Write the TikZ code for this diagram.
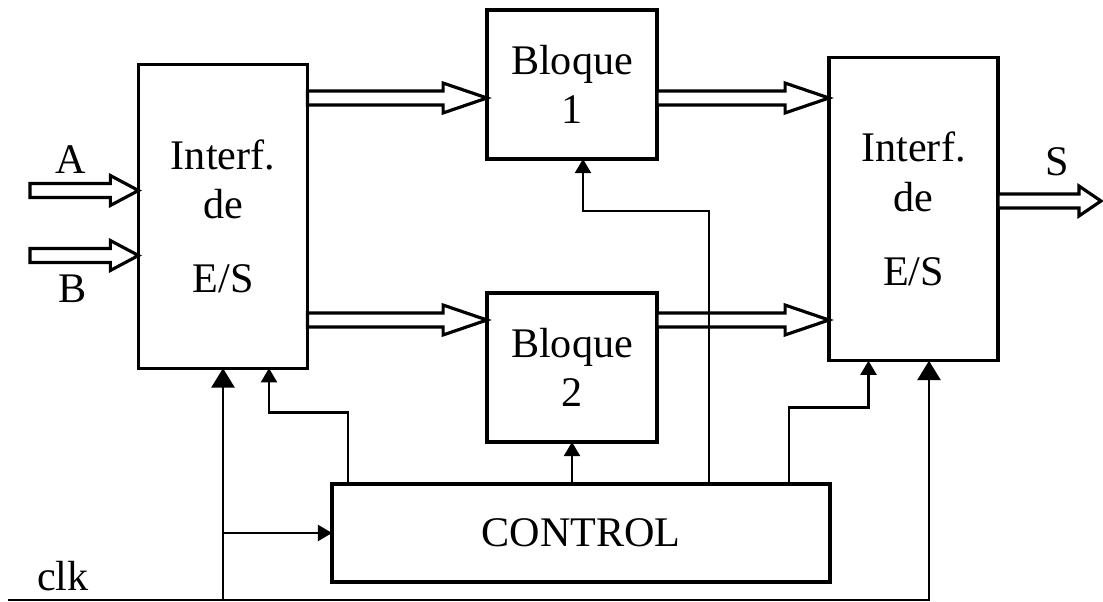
\documentclass[tikz,border=0pt]{standalone}
\usepackage{fontspec}
\setmainfont{Liberation Serif}
\usetikzlibrary{arrows.meta,calc}

% wide hollow bus arrow: [head length]{from}{to}, runs along the y of "from"
\newcommand\bus[3][25pt]{%
  \draw[bus] let \p1=(#2), \p2=(#3) in
    (\x1,\y1+4pt) -- (\x2-#1,\y1+4pt) -- (\x2-#1,\y1+8.5pt) -- (\x2,\y1)
    -- (\x2-#1,\y1-8.5pt) -- (\x2-#1,\y1-4pt) -- (\x1,\y1-4pt) -- cycle;}

\begin{document}
\begin{tikzpicture}[x=0.02cm,y=-0.02cm]
  \tikzstyle{every node}=[font=\fontsize{24}{28}\selectfont]
  \tikzstyle{blk}=[draw,line width=1.9pt,align=center,inner sep=0pt,outer sep=0pt]
  \tikzstyle{iface}=[blk,minimum width=3.38cm,minimum height=6.07cm]
  \tikzstyle{bloque}=[blk,minimum width=3.4cm,minimum height=2.98cm]
  \tikzstyle{bus}=[line width=1.8pt,fill=white,line join=miter]
  \tikzstyle{ctl}=[line width=1.5pt,-{Triangle[length=8pt,width=9pt]}]
  \tikzstyle{clkw}=[line width=1.6pt,-{Triangle[length=11pt,width=13pt]}]
  \useasboundingbox (0,0) rectangle (1103,602);

  % blocks
  \node[iface] (io1) at (223,216.5) {Interf.\\de\\[0.5cm]E/S};
  \node[bloque] (b1) at (572,84.5) {Bloque\\1};
  \node[bloque] (b2) at (572,367.5) {Bloque\\2};
  \node[iface] (io2) at (913.5,209) {Interf.\\de\\[0.5cm]E/S};
  \node[blk,minimum width=9.96cm,minimum height=1.96cm] (ctrl) at (581,533) {CONTROL};

  % buses
  \coordinate (inA) at (30,190.5);
  \coordinate (inB) at (30,255.5);
  \coordinate (rowa) at (0,98);
  \coordinate (rowb) at (0,320);
  \coordinate (rowS) at (0,201);
  \coordinate (outS) at (1101,201);
  \bus[16pt]{inA}{io1.west}
  \bus[16pt]{inB}{io1.west}
  \bus{io1.east |- rowa}{b1.west}
  \bus{io1.east |- rowb}{b2.west}
  \bus{b1.east |- rowa}{io2.west}
  \bus{b2.east |- rowb}{io2.west}
  \bus[12.5pt]{io2.east |- rowS}{outS}

  \node[anchor=base] (labA) at (71,173) {A};
  \node[anchor=base] (labB) at (73,302) {B};
  \node[anchor=base] (labS) at (1057,175) {S};
  \node[anchor=base] (labclk) at (63,590) {clk};

  % clock and control lines
  \coordinate (clkin) at (8,600);
  \draw[clkw] (clkin) -| ([shift={(15.5,0)}]io2.south);
  \draw[clkw] (io1.south |- clkin) -- (io1.south);
  \draw[ctl] (io1.south |- ctrl.west) -- (ctrl.west);
  \draw[ctl] ([shift={(16,0)}]ctrl.north west) |- ([shift={(46,44)}]io1.south) -- ([shift={(46,0)}]io1.south);
  \draw[ctl] (ctrl.north -| b2.south) -- (b2.south);
  \draw[ctl] ([shift={(128,0)}]ctrl.north) |- ([shift={(11,52)}]b1.south) -- ([shift={(11,0)}]b1.south);
  \draw[ctl] ([shift={(208,0)}]ctrl.north) |- ([shift={(-45,47)}]io2.south) -- ([shift={(-45,0)}]io2.south);
\end{tikzpicture}
\end{document}
